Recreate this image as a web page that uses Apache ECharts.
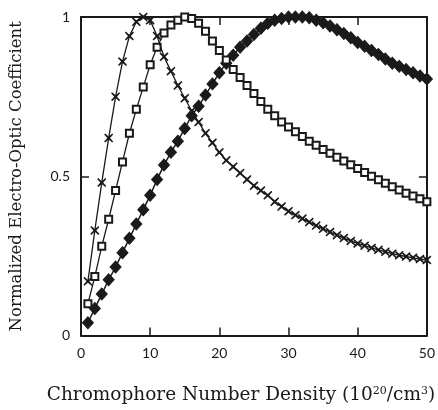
<!DOCTYPE html>
<html>
<head>
<meta charset="utf-8">
<script src="https://cdn.jsdelivr.net/npm/echarts@6/dist/echarts.min.js"></script>
<style>html,body{margin:0;padding:0;background:#fff;}#c{width:438px;height:410px;}</style>
</head>
<body>
<div id="c"></div>
<script>
// Chromophore number density (10^20/cm^3)
var density = [1,2,3,4,5,6,7,8,9,10,11,12,13,14,15,16,17,18,19,20,21,22,23,24,25,26,27,28,29,30,31,32,33,34,35,36,37,38,39,40,41,42,43,44,45,46,47,48,49,50];
// Normalized electro-optic coefficient, three curves
var crossSeries = [0.17,0.33,0.48,0.62,0.75,0.86,0.94,0.985,1.0,0.99,0.94,0.875,0.83,0.785,0.745,0.705,0.67,0.635,0.605,0.575,0.55,0.53,0.51,0.49,0.47,0.455,0.44,0.42,0.405,0.39,0.378,0.367,0.356,0.345,0.335,0.325,0.315,0.306,0.297,0.289,0.282,0.275,0.269,0.263,0.257,0.252,0.248,0.244,0.24,0.237];
var squareSeries = [0.10,0.185,0.28,0.365,0.455,0.545,0.635,0.71,0.78,0.85,0.905,0.95,0.975,0.99,1.0,0.995,0.98,0.955,0.925,0.895,0.865,0.835,0.81,0.785,0.76,0.735,0.71,0.69,0.67,0.655,0.64,0.625,0.61,0.597,0.584,0.572,0.56,0.548,0.536,0.524,0.512,0.5,0.489,0.478,0.467,0.457,0.447,0.438,0.429,0.42];
var diamondSeries = [0.04,0.085,0.13,0.175,0.215,0.26,0.305,0.35,0.395,0.44,0.49,0.535,0.575,0.61,0.65,0.69,0.72,0.755,0.79,0.825,0.855,0.88,0.905,0.925,0.945,0.965,0.98,0.99,0.995,1.0,1.0,1.0,0.998,0.99,0.982,0.972,0.96,0.948,0.935,0.92,0.908,0.895,0.882,0.868,0.855,0.845,0.835,0.825,0.815,0.805];
var xTicks = [0,10,20,30,40,50];
var yTicks = [0,0.5,1];

function pairs(ys){ return density.map(function(x,i){ return [x, ys[i]]; }); }

var crossPath = 'path://M1,0 L5,3.4 L9,0 L10,1.2 L6.6,5 L10,8.8 L9,10 L5,6.6 L1,10 L0,8.8 L3.4,5 L0,1.2 Z';
var ink = '#1a1a1a';
var tickFont = {fontFamily:'Lato', fontSize:14, color:ink};

var chart = echarts.init(document.getElementById('c'));
chart.setOption({
  animation:false,
  backgroundColor:'#fff',
  grid:{left:75, right:3, top:17, bottom:73},
  xAxis:[{
    type:'value', min:xTicks[0], max:xTicks[xTicks.length-1], interval:10,
    axisLine:{show:true, onZero:false, lineStyle:{color:ink, width:2}},
    axisTick:{show:true, inside:true, length:8, lineStyle:{color:ink, width:1.5}},
    axisLabel:Object.assign({margin:11}, tickFont),
    splitLine:{show:false},
    name:'{a|Chromophore Number Density (10}{s|20}{a|/cm}{s|3}{a|)}',
    nameLocation:'middle', nameGap:50,
    nameTextStyle:{padding:[0,26,0,0], rich:{
      a:{fontFamily:'DejaVu Serif', fontSize:18.5, color:ink},
      s:{fontFamily:'DejaVu Serif', fontSize:11, color:ink, verticalAlign:'top', padding:[0,0,9,0]}
    }}
  },{
    type:'value', position:'top', min:0, max:50, interval:10,
    axisLine:{show:true, onZero:false, lineStyle:{color:ink, width:2}},
    axisTick:{show:true, inside:true, length:8, lineStyle:{color:ink, width:1.5}},
    axisLabel:{show:false}, splitLine:{show:false}
  }],
  yAxis:[{
    type:'value', min:yTicks[0], max:yTicks[yTicks.length-1], interval:0.5,
    axisLine:{show:true, onZero:false, lineStyle:{color:ink, width:2}},
    axisTick:{show:true, inside:true, length:8, lineStyle:{color:ink, width:1.5}},
    axisLabel:Object.assign({margin:11}, tickFont),
    splitLine:{show:false},
    name:'Normalized Electro-Optic Coefficient',
    nameLocation:'middle', nameGap:56,
    nameTextStyle:{fontFamily:'DejaVu Serif', fontSize:16.5, color:ink}
  },{
    type:'value', position:'right', min:0, max:1, interval:0.5,
    axisLine:{show:true, onZero:false, lineStyle:{color:ink, width:2}},
    axisTick:{show:true, inside:true, length:8, lineStyle:{color:ink, width:1.5}},
    axisLabel:{show:false}, splitLine:{show:false}
  }],
  series:[
    {type:'line', data:pairs(diamondSeries), symbol:'diamond', symbolSize:[11,12],
     itemStyle:{color:ink, borderColor:ink}, lineStyle:{color:ink, width:1.5}, z:3},
    {type:'line', data:pairs(squareSeries), symbol:'rect', symbolSize:7,
     itemStyle:{color:'#fff', borderColor:ink, borderWidth:2}, lineStyle:{color:ink, width:1.3}, z:4},
    {type:'line', data:pairs(crossSeries), symbol:crossPath, symbolSize:9,
     itemStyle:{color:ink}, lineStyle:{color:ink, width:1.3}, z:5}
  ]
});
</script>
</body>
</html>
